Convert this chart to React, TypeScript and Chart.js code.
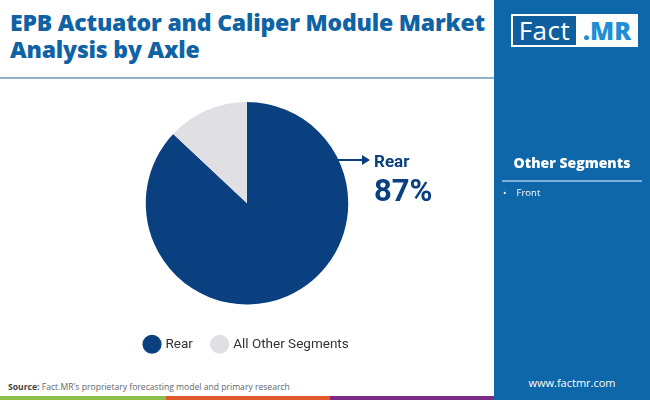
import { useEffect, useRef } from "react";
import Chart from "chart.js/auto";

const segments = ["Rear", "All Other Segments"];
const shares = [87, 13];
const sliceColors = ["#0b4080", "#e0dfe3"];
const otherSegments = ["Front"];

const PieChart = () => {
  const chartRef = useRef<HTMLCanvasElement>(null);
  const chartInstanceRef = useRef<Chart | null>(null);

  useEffect(() => {
    if (chartRef.current) {
      const ctx = chartRef.current.getContext("2d");
      if (ctx) {
        if (chartInstanceRef.current) {
          chartInstanceRef.current.destroy();
        }
        chartInstanceRef.current = new Chart(ctx, {
          type: "pie",
          data: {
            labels: segments,
            datasets: [
              {
                data: shares,
                backgroundColor: sliceColors,
                borderWidth: 0,
              },
            ],
          },
          options: {
            responsive: false,
            animation: false,
            layout: { padding: { top: 12, bottom: 16 } },
            plugins: {
              tooltip: { enabled: false },
              legend: {
                position: "bottom",
                // empty title only used as a spacer above the legend row
                title: {
                  display: true,
                  text: "",
                  font: { size: 1, lineHeight: 1 },
                  padding: { top: 12, bottom: 0 },
                },
                labels: {
                  usePointStyle: true,
                  pointStyle: "circle",
                  boxHeight: 14,
                  padding: 20,
                  color: "#333333",
                  font: { family: "Roboto", size: 13.5 },
                },
              },
            },
          },
        });
      }
    }

    return () => {
      if (chartInstanceRef.current) {
        chartInstanceRef.current.destroy();
      }
    };
  }, []);

  return (
    <canvas
      ref={chartRef}
      width={260}
      height={287}
      style={{ position: "absolute", left: 117, top: 90, width: 260, height: 287 }}
    />
  );
};

const App = () => {
  return (
    <div
      style={{
        position: "absolute",
        left: 0,
        top: 0,
        width: 650,
        height: 400,
        background: "#ffffff",
        overflow: "hidden",
        fontFamily: "Roboto, sans-serif",
      }}
    >
      {/* title */}
      <div
        style={{
          position: "absolute",
          left: 10,
          top: 9,
          width: 480,
          fontFamily: "'Open Sans', sans-serif",
          fontWeight: 800,
          fontSize: 23,
          lineHeight: "27px",
          color: "#0f63a5",
          letterSpacing: -0.2,
        }}
      >
        EPB Actuator and Caliper Module Market
        <br />
        Analysis by Axle
      </div>
      <div
        style={{ position: "absolute", left: 0, top: 77, width: 494, height: 2, background: "#8fb0cb" }}
      />

      <PieChart />

      {/* callout */}
      <div
        style={{ position: "absolute", left: 338, top: 159, width: 26, height: 2, background: "#0b4080" }}
      />
      <div
        style={{
          position: "absolute",
          left: 362,
          top: 155,
          width: 0,
          height: 0,
          borderTop: "5px solid transparent",
          borderBottom: "5px solid transparent",
          borderLeft: "8px solid #0b4080",
        }}
      />
      <div
        style={{
          position: "absolute",
          left: 374,
          top: 151,
          fontWeight: 700,
          fontSize: 17,
          color: "#0b4080",
        }}
      >
        {segments[0]}
      </div>
      <div
        style={{
          position: "absolute",
          left: 374,
          top: 172,
          fontWeight: 700,
          fontSize: 31,
          color: "#0b4080",
        }}
      >
        {shares[0]}%
      </div>

      {/* source + colour strip */}
      <div
        style={{
          position: "absolute",
          left: 8,
          top: 381,
          fontFamily: "'Open Sans', sans-serif",
          fontSize: 8.6,
          color: "#666666",
        }}
      >
        <b style={{ color: "#444444" }}>Source:</b> Fact.MR's proprietary forecasting model and primary research
      </div>
      <div style={{ position: "absolute", left: 0, top: 396, width: 166, height: 4, background: "#8cc04a" }} />
      <div style={{ position: "absolute", left: 166, top: 396, width: 164, height: 4, background: "#e05a2b" }} />
      <div style={{ position: "absolute", left: 330, top: 396, width: 164, height: 4, background: "#7b2a86" }} />

      {/* right panel */}
      <div
        style={{
          position: "absolute",
          left: 494,
          top: 0,
          width: 156,
          height: 400,
          background: "#0e67a8",
          color: "#ffffff",
        }}
      >
        <div
          style={{
            position: "absolute",
            left: 17,
            top: 14,
            width: 127,
            height: 33,
            background: "#ffffff",
          }}
        >
          <div
            style={{
              position: "absolute",
              left: 2,
              top: 2,
              width: 63,
              height: 29,
              background: "#0f5f9f",
              color: "#ffffff",
              fontFamily: "'Open Sans', sans-serif",
              fontSize: 26,
              lineHeight: "29px",
              textAlign: "center",
              letterSpacing: 0.5,
            }}
          >
            Fact
          </div>
          <div
            style={{
              position: "absolute",
              left: 66,
              top: 2,
              width: 60,
              height: 29,
              color: "#1e8fd6",
              fontFamily: "'Open Sans', sans-serif",
              fontWeight: 800,
              fontSize: 25,
              lineHeight: "29px",
              textAlign: "center",
            }}
          >
            .MR
          </div>
        </div>

        <div
          style={{
            position: "absolute",
            left: 0,
            top: 153,
            width: 156,
            textAlign: "center",
            fontFamily: "'Open Sans', sans-serif",
            fontWeight: 800,
            fontSize: 14,
          }}
        >
          Other Segments
        </div>
        <div
          style={{ position: "absolute", left: 8, top: 180, width: 140, height: 2, background: "#7fb0d8" }}
        />
        {otherSegments.map((s, i) => (
          <div
            key={s}
            style={{
              position: "absolute",
              left: 9,
              top: 186 + i * 16,
              fontFamily: "'Open Sans', sans-serif",
              fontSize: 9.5,
            }}
          >
            <span style={{ marginRight: 10 }}>•</span>
            {s}
          </div>
        ))}

        <div
          style={{
            position: "absolute",
            left: 0,
            top: 375,
            width: 156,
            textAlign: "center",
            fontFamily: "'Open Sans', sans-serif",
            fontSize: 11,
          }}
        >
          www.factmr.com
        </div>
      </div>
    </div>
  );
};

export default App;
